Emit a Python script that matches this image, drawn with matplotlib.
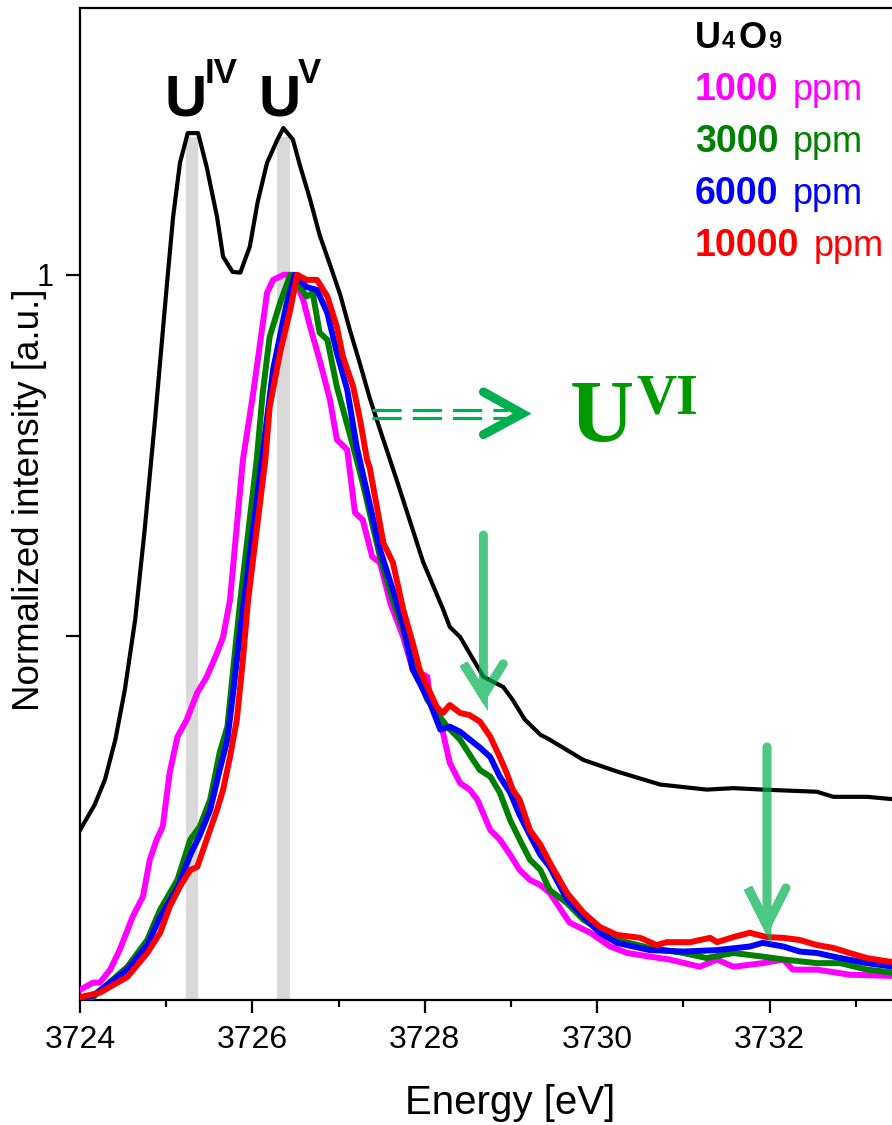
import matplotlib
matplotlib.use('Agg')
import matplotlib.pyplot as plt

plt.rcParams['font.family'] = ['Liberation Sans', 'DejaVu Sans']
plt.rcParams['lines.scale_dashes'] = False

# U4O9 reference spectrum
e_ref = [3724.00, 3724.17, 3724.29, 3724.41, 3724.52, 3724.64, 3724.75, 3724.87,
         3725.01, 3725.08, 3725.16, 3725.25, 3725.37, 3725.47, 3725.59, 3725.66,
         3725.77, 3725.86, 3725.97, 3726.06, 3726.17, 3726.29, 3726.36, 3726.47,
         3726.55, 3726.67, 3726.78, 3726.90, 3727.02, 3727.13, 3727.25, 3727.36,
         3727.48, 3727.68, 3727.98, 3728.21, 3728.29, 3728.41, 3728.68, 3728.91,
         3729.02, 3729.16, 3729.34, 3729.45, 3729.84, 3730.23, 3730.73, 3731.27,
         3731.58, 3731.92, 3732.55, 3732.74, 3733.13, 3733.50]
i_ref = [0.232, 0.267, 0.302, 0.357, 0.426, 0.523, 0.647, 0.799,
         0.989, 1.080, 1.155, 1.196, 1.196, 1.149, 1.080, 1.025,
         1.004, 1.003, 1.039, 1.100, 1.155, 1.187, 1.203, 1.187,
         1.152, 1.104, 1.055, 1.014, 0.972, 0.924, 0.876, 0.830,
         0.786, 0.714, 0.603, 0.538, 0.513, 0.499, 0.444, 0.430,
         0.412, 0.385, 0.364, 0.357, 0.329, 0.313, 0.295, 0.288,
         0.290, 0.288, 0.285, 0.278, 0.278, 0.274]

# 1000 ppm
e_1000 = [3724.00, 3724.15, 3724.23, 3724.35, 3724.46, 3724.61, 3724.73, 3724.81,
          3724.89, 3724.96, 3725.04, 3725.13, 3725.24, 3725.36, 3725.47, 3725.59,
          3725.66, 3725.74, 3725.89, 3726.01, 3726.17, 3726.24, 3726.36, 3726.47,
          3726.59, 3726.67, 3726.78, 3726.90, 3726.98, 3727.10, 3727.19, 3727.28,
          3727.39, 3727.48, 3727.60, 3727.75, 3727.86, 3728.03, 3728.06, 3728.21,
          3728.29, 3728.41, 3728.52, 3728.61, 3728.76, 3728.87, 3728.99, 3729.10,
          3729.22, 3729.34, 3729.45, 3729.68, 3729.92, 3730.15, 3730.35, 3730.61,
          3730.84, 3731.19, 3731.39, 3731.58, 3731.92, 3732.16, 3732.27, 3732.55,
          3732.93, 3733.50]
i_1000 = [0.011, 0.021, 0.021, 0.039, 0.066, 0.112, 0.140, 0.191,
          0.219, 0.237, 0.311, 0.361, 0.385, 0.422, 0.444, 0.477,
          0.499, 0.550, 0.744, 0.837, 0.975, 0.993, 1.000, 1.000,
          0.965, 0.928, 0.882, 0.827, 0.772, 0.758, 0.671, 0.661,
          0.610, 0.602, 0.546, 0.499, 0.454, 0.444, 0.412, 0.367,
          0.325, 0.297, 0.288, 0.274, 0.232, 0.219, 0.198, 0.177,
          0.163, 0.156, 0.145, 0.104, 0.090, 0.071, 0.062, 0.057,
          0.053, 0.043, 0.053, 0.043, 0.048, 0.053, 0.039, 0.039,
          0.032, 0.030]

# 3000 ppm
e_3000 = [3724.00, 3724.15, 3724.55, 3724.78, 3724.93, 3725.13, 3725.28, 3725.39,
          3725.51, 3725.62, 3725.71, 3725.78, 3725.86, 3726.05, 3726.12, 3726.20,
          3726.32, 3726.44, 3726.55, 3726.63, 3726.70, 3726.78, 3726.87, 3726.98,
          3727.17, 3727.28, 3727.48, 3727.63, 3727.75, 3727.86, 3728.03, 3728.26,
          3728.41, 3728.56, 3728.64, 3728.76, 3728.87, 3728.99, 3729.10, 3729.22,
          3729.34, 3729.45, 3729.65, 3729.84, 3730.03, 3730.23, 3730.61, 3731.00,
          3731.27, 3731.58, 3731.92, 3732.16, 3732.55, 3732.82, 3733.13, 3733.50]
i_3000 = [0.000, 0.001, 0.043, 0.080, 0.122, 0.163, 0.219, 0.237,
          0.274, 0.339, 0.375, 0.458, 0.550, 0.744, 0.837, 0.914,
          0.961, 1.000, 0.983, 0.970, 0.975, 0.920, 0.910, 0.845,
          0.762, 0.712, 0.610, 0.550, 0.509, 0.461, 0.412, 0.375,
          0.357, 0.329, 0.315, 0.306, 0.284, 0.246, 0.219, 0.191,
          0.177, 0.149, 0.131, 0.108, 0.094, 0.080, 0.069, 0.062,
          0.055, 0.062, 0.057, 0.053, 0.048, 0.048, 0.039, 0.034]

# 6000 ppm
e_6000 = [3724.00, 3724.15, 3724.55, 3724.78, 3724.93, 3725.13, 3725.28, 3725.39,
          3725.51, 3725.62, 3725.71, 3725.78, 3725.86, 3726.11, 3726.24, 3726.40,
          3726.49, 3726.63, 3726.75, 3726.87, 3726.98, 3727.10, 3727.21, 3727.48,
          3727.63, 3727.75, 3727.86, 3728.06, 3728.18, 3728.29, 3728.41, 3728.64,
          3728.76, 3728.87, 3728.99, 3729.10, 3729.22, 3729.34, 3729.45, 3729.65,
          3729.84, 3730.03, 3730.23, 3730.61, 3731.00, 3731.39, 3731.62, 3731.77,
          3731.92, 3732.16, 3732.35, 3732.55, 3732.74, 3733.13, 3733.50]
i_6000 = [0.000, 0.003, 0.039, 0.073, 0.112, 0.152, 0.198, 0.225,
          0.260, 0.315, 0.357, 0.426, 0.509, 0.744, 0.869, 0.961,
          1.000, 0.983, 0.979, 0.947, 0.892, 0.841, 0.762, 0.620,
          0.564, 0.516, 0.454, 0.408, 0.371, 0.375, 0.368, 0.346,
          0.333, 0.306, 0.284, 0.253, 0.225, 0.198, 0.181, 0.136,
          0.112, 0.090, 0.076, 0.066, 0.064, 0.066, 0.069, 0.071,
          0.076, 0.071, 0.064, 0.062, 0.057, 0.048, 0.042]

# 10000 ppm
e_10000 = [3724.00, 3724.23, 3724.55, 3724.78, 3724.93, 3725.04, 3725.16, 3725.28,
           3725.36, 3725.47, 3725.59, 3725.66, 3725.74, 3725.82, 3725.89, 3725.95,
           3726.15, 3726.20, 3726.32, 3726.44, 3726.52, 3726.63, 3726.75, 3726.87,
           3726.98, 3727.05, 3727.17, 3727.25, 3727.33, 3727.36, 3727.52, 3727.63,
           3727.75, 3727.86, 3727.94, 3728.14, 3728.21, 3728.29, 3728.41, 3728.52,
           3728.64, 3728.76, 3728.87, 3728.95, 3729.02, 3729.10, 3729.22, 3729.34,
           3729.45, 3729.65, 3729.84, 3730.03, 3730.23, 3730.50, 3730.69, 3730.81,
           3731.08, 3731.31, 3731.39, 3731.58, 3731.77, 3731.97, 3732.16, 3732.35,
           3732.55, 3732.74, 3732.93, 3733.13, 3733.50]
i_10000 = [0.001, 0.007, 0.029, 0.062, 0.090, 0.126, 0.154, 0.177,
           0.181, 0.219, 0.260, 0.288, 0.333, 0.385, 0.468, 0.550,
           0.744, 0.817, 0.892, 0.952, 1.000, 0.993, 0.993, 0.970,
           0.928, 0.887, 0.845, 0.799, 0.744, 0.734, 0.629, 0.602,
           0.537, 0.491, 0.454, 0.402, 0.394, 0.405, 0.394, 0.391,
           0.382, 0.361, 0.333, 0.311, 0.288, 0.274, 0.232, 0.212,
           0.187, 0.145, 0.118, 0.098, 0.087, 0.083, 0.073, 0.077,
           0.077, 0.083, 0.077, 0.084, 0.090, 0.084, 0.083, 0.080,
           0.073, 0.069, 0.062, 0.055, 0.048]

# U(IV) / U(V) marker bands
band_lo = [3725.23, 3726.29]
band_hi = [3725.37, 3726.44]
band_top = 1.19

ymin, ymax = -0.003, 1.369

fig = plt.figure(figsize=(8.92, 11.25), dpi=100)
ax = fig.add_axes([80 / 892, 125 / 1125, 820 / 892, 992 / 1125])

for lo, hi in zip(band_lo, band_hi):
    ax.axvspan(lo, hi, ymin=0, ymax=(band_top - ymin) / (ymax - ymin),
               color='#d9d9d9', lw=0, zorder=1)

ax.plot(e_ref, i_ref, color='black', lw=3, zorder=3)
ax.plot(e_1000, i_1000, color='#ff00ff', lw=4.3, zorder=4)
ax.plot(e_3000, i_3000, color='#008000', lw=4.3, zorder=5)
ax.plot(e_6000, i_6000, color='#0000ff', lw=4.3, zorder=6)
ax.plot(e_10000, i_10000, color='#ff0000', lw=4.3, zorder=7)

# dashed shift arrow towards U(VI)
for yy in (0.813, 0.802):
    ax.plot([3727.39, 3728.96], [yy, yy], color='#00b050', lw=2.3,
            dashes=(21, 8), solid_capstyle='butt', zorder=8)
ax.plot([3728.68, 3729.13, 3728.68], [0.838, 0.808, 0.779], color='#00b050',
        lw=6.5, solid_capstyle='round', solid_joinstyle='miter', zorder=8)

# vertical arrows
for xa, top, tip, arm, dx in [(3728.68, 0.640, 0.418, 0.462, 0.23),
                              (3731.97, 0.347, 0.100, 0.152, 0.22)]:
    ax.plot([xa, xa, xa - dx, xa, xa + dx], [top, tip, arm, tip, arm],
            color='#00b050', alpha=0.7, lw=6.5, solid_capstyle='round',
            solid_joinstyle='miter', zorder=9)

ax.set_xlim(3724, 3733.513)
ax.set_ylim(ymin, ymax)
ax.set_xticks([3724, 3726, 3728, 3730, 3732])
ax.set_xticks([3725, 3727, 3729, 3731, 3733], minor=True)
ax.set_yticks([0.5, 1.0])
ax.set_yticklabels(['', '1'])
ax.spines['right'].set_visible(False)
for s in ('left', 'top', 'bottom'):
    ax.spines[s].set_linewidth(1.6)
ax.tick_params(axis='x', which='major', direction='out', length=9, width=1.6,
               labelsize=23, pad=9)
ax.tick_params(axis='x', which='minor', direction='out', length=5, width=1.6)
ax.tick_params(axis='y', direction='out', length=10, width=1.6, labelsize=22, pad=9)


def ftxt(x, y, s, **kw):
    # place text using reference pixel coordinates (baseline)
    fig.text(x / 892, 1 - y / 1125, s, va='baseline', **kw)


fig.text(510 / 892, 1 - 1103 / 1125, 'Energy [eV]', ha='center', va='center', fontsize=29)
fig.text(30 / 892, 1 - 500 / 1125, 'Normalized intensity [a.u.]', rotation=90,
         ha='center', va='center', fontsize=26.5)

# oxidation state labels
ftxt(164, 115, 'U', fontsize=42, fontweight='bold')
ftxt(205, 83, 'IV', fontsize=25, fontweight='bold')
ftxt(258, 115, 'U', fontsize=42, fontweight='bold')
ftxt(298, 83, 'V', fontsize=25, fontweight='bold')
ftxt(570, 441, 'U', fontsize=64, fontweight='bold', color='#009900',
     family='Liberation Serif')
ftxt(636, 413, 'VI', fontsize=40, fontweight='bold', color='#009900',
     family='Liberation Serif')

# text legend
ftxt(695, 48, 'U', fontsize=26, fontweight='bold')
ftxt(722, 48, '4', fontsize=17, fontweight='bold')
ftxt(738, 48, 'O', fontsize=26, fontweight='bold')
ftxt(768, 48, '9', fontsize=17, fontweight='bold')
rows = [('1000', '#ff00ff', 100, 793), ('3000', '#008000', 152, 793),
        ('6000', '#0000ff', 204, 793), ('10000', '#ff0000', 256, 814)]
for num, col, yb, xp in rows:
    ftxt(695, yb, num, fontsize=27, fontweight='bold', color=col)
    ftxt(xp, yb, 'ppm', fontsize=26, color=col)

fig.savefig('out.png', dpi=100)
